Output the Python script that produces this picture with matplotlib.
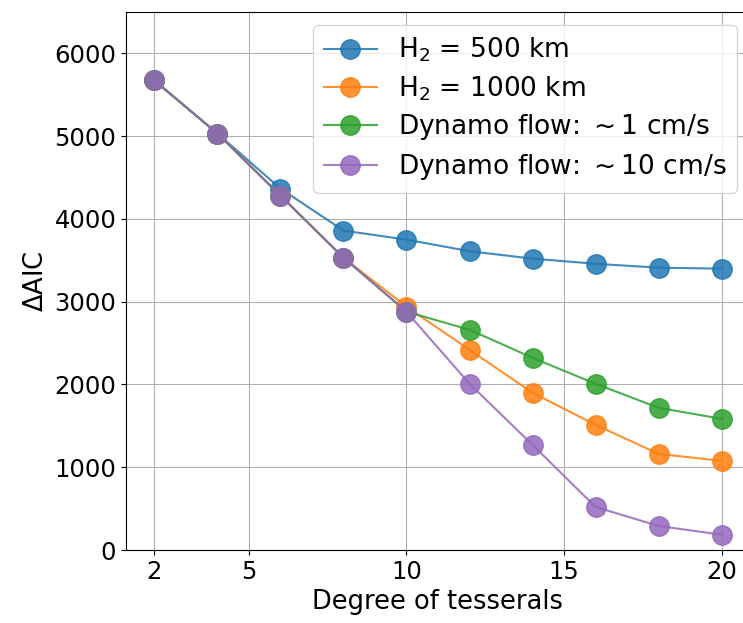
import numpy as np
import matplotlib
matplotlib.use("Agg")
import matplotlib.pyplot as plt

# Degree of tesserals and Delta AIC for each model
degree = [2, 4, 6, 8, 10, 12, 14, 16, 18, 20]
aic_h500 = [5673, 5032, 4367, 3859, 3750, 3610, 3520, 3458, 3411, 3399]
aic_h1000 = [5673, 5032, 4282, 3532, 2939, 2419, 1899, 1512, 1161, 1077]
aic_dyn1 = [5673, 5032, 4282, 3532, 2879, 2661, 2322, 2008, 1718, 1585]
aic_dyn10 = [5673, 5032, 4282, 3532, 2879, 2008, 1270, 520, 290, 185]

series = [
    (aic_h500, r"H$_2$ = 500 km", "tab:blue"),
    (aic_h1000, r"H$_2$ = 1000 km", "tab:orange"),
    (aic_dyn1, r"Dynamo flow: $\sim$1 cm/s", "tab:green"),
    (aic_dyn10, r"Dynamo flow: $\sim$10 cm/s", "tab:purple"),
]

plt.rcParams['font.size'] = 17.5

fig = plt.figure(figsize=(7.43, 6.23), dpi=100)
# right spine falls just outside the picture, as in the reference
ax = fig.add_axes([126 / 743, 1 - 550 / 623, 624 / 743, 538 / 623])

for vals, label, color in series:
    ax.plot(degree, vals, '-o', color=color, lw=1.5, ms=14,
            alpha=0.85, label=label)

ax.set_xlim(1.1, 20.9)
ax.set_ylim(0, 6500)
ax.set_xticks([2, 5, 10, 15, 20])
ax.set_yticks(np.arange(0, 6001, 1000))
ax.tick_params(labelsize=17.5)
ax.grid(True)
ax.set_xlabel("Degree of tesserals", fontsize=18.5)
ax.set_ylabel(r"$\Delta$AIC", fontsize=18.5)
ax.legend(loc='upper right', fontsize=19, labelspacing=0.37)

plt.savefig("out.png", dpi=100)
